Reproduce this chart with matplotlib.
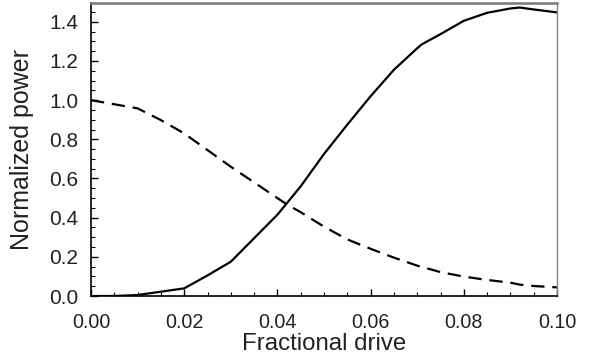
import matplotlib.pyplot as plt
from matplotlib.ticker import MultipleLocator

# Solid curve (rising)
drive_solid = [0.0, 0.005, 0.01, 0.015, 0.02, 0.025, 0.03, 0.035, 0.04,
               0.042, 0.045, 0.05, 0.055, 0.06, 0.065, 0.07, 0.071, 0.075,
               0.08, 0.085, 0.09, 0.092, 0.095, 0.1]
power_solid = [0.0, 0.0, 0.005, 0.022, 0.039, 0.105, 0.175, 0.295, 0.415,
               0.473, 0.56, 0.725, 0.875, 1.02, 1.155, 1.265, 1.285, 1.337,
               1.405, 1.446, 1.468, 1.473, 1.463, 1.448]

# Dashed curve (falling)
drive_dashed = [0.0, 0.01, 0.015, 0.02, 0.025, 0.03, 0.035, 0.04, 0.042,
                0.045, 0.05, 0.055, 0.06, 0.065, 0.07, 0.075, 0.08, 0.085,
                0.09, 0.092, 0.095, 0.1]
power_dashed = [1.0, 0.958, 0.898, 0.83, 0.745, 0.66, 0.58, 0.50, 0.468,
                0.428, 0.354, 0.289, 0.241, 0.196, 0.155, 0.122, 0.099,
                0.082, 0.068, 0.058, 0.051, 0.044]

plt.rcParams["font.family"] = ["Liberation Sans", "DejaVu Sans"]

fig = plt.figure(figsize=(5.97, 3.62), dpi=100)
ax = fig.add_axes([91 / 597, 66 / 362, 466 / 597, 293 / 362])

ax.plot(drive_solid, power_solid, color="black", linewidth=1.6)
ax.plot(drive_dashed, power_dashed, color="black", linewidth=1.6,
        linestyle=(0, (6, 3.5)))

ax.set_xlim(0, 0.1)
ax.set_ylim(0, 1.496)

ax.xaxis.set_major_locator(MultipleLocator(0.02))
ax.xaxis.set_minor_locator(MultipleLocator(0.005))
ax.yaxis.set_major_locator(MultipleLocator(0.2))
ax.yaxis.set_minor_locator(MultipleLocator(0.05))
ax.xaxis.set_major_formatter(lambda v, p: f"{v:.2f}")
ax.yaxis.set_major_formatter(lambda v, p: f"{v:.1f}")

ax.tick_params(which="both", direction="in", top=False, right=False,
               colors="black", labelcolor="#222222")
ax.tick_params(which="major", length=5, width=1)
ax.tick_params(which="minor", length=3, width=0.8)
ax.tick_params(axis="x", pad=12, labelsize=14.2)
ax.tick_params(axis="y", pad=9, labelsize=15)

for side in ("left", "bottom"):
    ax.spines[side].set_linewidth(1.2)
    ax.spines[side].set_color("black")
ax.spines["top"].set_color("#777777")
ax.spines["top"].set_linewidth(1.8)
ax.spines["right"].set_color("#888888")
ax.spines["right"].set_linewidth(1.0)

ax.set_xlabel("Fractional drive", fontsize=17.3, color="#222222")
ax.set_ylabel("Normalized power", fontsize=18, color="#222222")
ax.xaxis.set_label_coords(0.5, -0.125)
ax.yaxis.set_label_coords(-0.122, 0.5)

fig.savefig("out.png", dpi=100)
